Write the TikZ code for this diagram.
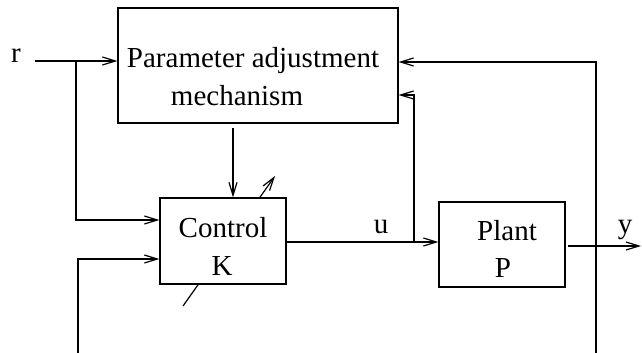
\documentclass[tikz,border=0pt]{standalone}
\usepackage{fontspec}
\setmainfont{Liberation Serif}
\usetikzlibrary{arrows.meta}
\begin{document}
\begin{tikzpicture}[x=1pt,y=-1pt,
  line width=1.2pt,
  ar/.style={-{Straight Barb[length=13pt,width=8pt,line width=1.2pt]}},
  blk/.style={draw,fill=white,rectangle,inner sep=0pt,line width=1.2pt},
  lbl/.style={anchor=base,inner sep=0pt,font=\fontsize{29}{34}\selectfont}]
\useasboundingbox (0,0) rectangle (642,353);
% diagonal "adjustable" arrow behind the control block
\coordinate (dA) at (183,306);
\coordinate (dB) at (275,176);
\draw[ar] (dA) -- (dB);
% blocks
\node[blk,minimum width=280pt,minimum height=115pt] (pam) at (258,65.5) {};
\node[blk,minimum width=126pt,minimum height=86pt] (ctl) at (223,241) {};
\node[blk,minimum width=126pt,minimum height=85pt] (plt) at (502,244.5) {};
% texts
\node[lbl] (t1) at (253,67) {Parameter adjustment};
\node[lbl] (t2) at (237,105) {mechanism};
\node[lbl] (t3) at (223,237) {Control};
\node[lbl] (t4) at (222,275) {K};
\node[lbl] (t5) at (507,240) {Plant};
\node[lbl] (t6) at (503,277) {P};
\node[lbl] (r) at (16,63) {r};
\node[lbl] (u) at (381,233) {u};
\node[lbl] (y) at (625,233) {y};
% coordinates
\coordinate (rs) at (35,61);
\coordinate (rb) at (76,61);
\coordinate (c1) at (76,220);
\coordinate (fb1) at (78,353);
\coordinate (fb1t) at (78,259);
\coordinate (pb) at (233,128);
\coordinate (ub) at (414,242);
\coordinate (ubt) at (414,95);
\coordinate (fb2) at (596,353);
\coordinate (fb2t) at (596,62);
\coordinate (yo) at (568,246);
\coordinate (ye) at (641,246);
% connectors
\draw[ar] (rs) -- (pam.west |- rs);
\draw[ar] (rb) -- (c1) -- (ctl.west |- c1);
\draw[ar] (fb1) -- (fb1t) -- (ctl.west |- fb1t);
\draw[ar] (pb) -- (ctl.north -| pb);
\draw[ar] (ctl.east |- ub) -- (plt.west |- ub);
\draw[ar] (ub) -- (ubt) -- (pam.east |- ubt);
\draw[ar] (fb2) -- (fb2t) -- (pam.east |- fb2t);
\draw[ar] (yo) -- (ye);
\end{tikzpicture}
\end{document}
